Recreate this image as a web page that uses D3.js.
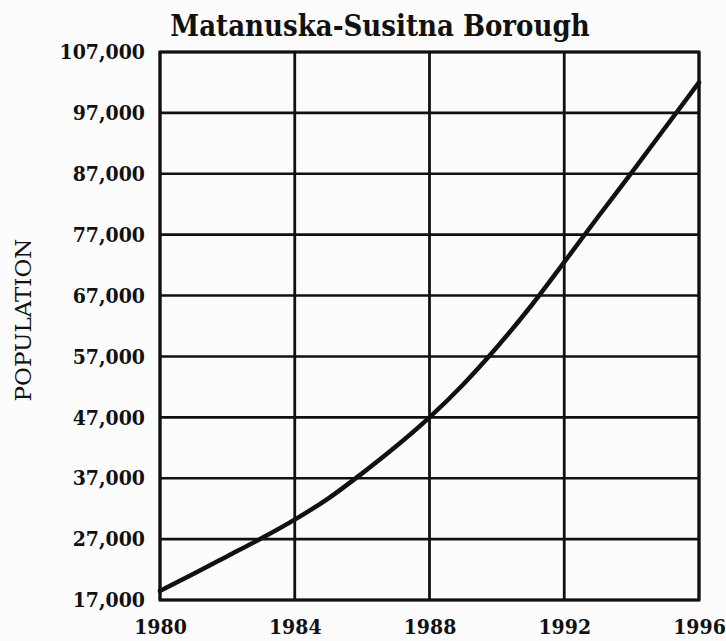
<!DOCTYPE html>
<html>
<head>
<meta charset="utf-8">
<script src="https://cdn.jsdelivr.net/npm/d3@7"></script>
<style>
  body { margin: 0; background: #fcfcfc; }
  svg { display: block; }
  .lbl { font-family: "DejaVu Serif Condensed", "DejaVu Serif", serif; font-stretch: condensed; font-weight: bold; fill: #111; }
</style>
</head>
<body>
<div id="chart"></div>
<script>
  var width = 726;
  var height = 641;

  // population (one value per year)
  var years = [1980, 1981, 1982, 1983, 1984, 1985, 1986, 1987, 1988,
               1989, 1990, 1991, 1992, 1993, 1994, 1995, 1996];
  var population = [18500, 21300, 24200, 27100, 30200, 33700, 37800, 42200, 47000,
                    52400, 58500, 65200, 72500, 79900, 87200, 94600, 102000];

  var yearTicks = [1980, 1984, 1988, 1992, 1996];
  var popTicks = [17000, 27000, 37000, 47000, 57000, 67000, 77000, 87000, 97000, 107000];

  var title = "Matanuska-Susitna Borough";
  var yTitle = "POPULATION";

  var margin = {left: 160, right: 27, top: 52, bottom: 41};

  var svg = d3.select("#chart").append("svg")
    .attr("width", width)
    .attr("height", height);

  var x = d3.scaleLinear()
    .domain([1980, 1996])
    .range([margin.left, width - margin.right]);

  var y = d3.scaleLinear()
    .domain([17000, 107000])
    .range([height - margin.bottom, margin.top]);

  // grid lines
  svg.append("g").selectAll("line.h")
    .data(popTicks)
    .enter().append("line")
    .attr("x1", x(1980)).attr("x2", x(1996))
    .attr("y1", function(d) { return y(d); })
    .attr("y2", function(d) { return y(d); })
    .attr("stroke", "#111").attr("stroke-width", 2.6);

  svg.append("g").selectAll("line.v")
    .data(yearTicks)
    .enter().append("line")
    .attr("y1", y(17000)).attr("y2", y(107000))
    .attr("x1", function(d) { return x(d); })
    .attr("x2", function(d) { return x(d); })
    .attr("stroke", "#111").attr("stroke-width", 2.8);

  // frame
  svg.append("rect")
    .attr("x", x(1980)).attr("y", y(107000))
    .attr("width", x(1996) - x(1980))
    .attr("height", y(17000) - y(107000))
    .attr("fill", "none").attr("stroke", "#111").attr("stroke-width", 3);

  // the curve
  var line = d3.line()
    .x(function(d, i) { return x(years[i]); })
    .y(function(d) { return y(d); })
    .curve(d3.curveMonotoneX);

  svg.append("path")
    .datum(population)
    .attr("d", line)
    .attr("fill", "none")
    .attr("stroke", "#111")
    .attr("stroke-width", 4.5)
    .attr("stroke-linecap", "round");

  // axis labels
  var yAxis = d3.axisLeft(y)
    .tickValues(popTicks)
    .tickSize(0)
    .tickPadding(15)
    .tickFormat(d3.format(","));
  var ya = svg.append("g").attr("transform", "translate(" + margin.left + ",0)").call(yAxis);
  ya.select(".domain").remove();
  ya.selectAll("text").attr("class", "lbl").style("font-size", "21px");

  var xAxis = d3.axisBottom(x)
    .tickValues(yearTicks)
    .tickSize(0)
    .tickPadding(19)
    .tickFormat(d3.format("d"));
  var xa = svg.append("g").attr("transform", "translate(0," + y(17000) + ")").call(xAxis);
  xa.select(".domain").remove();
  xa.selectAll("text").attr("class", "lbl").style("font-size", "21px");

  // titles
  svg.append("text")
    .attr("class", "lbl")
    .attr("x", 380).attr("y", 36)
    .attr("text-anchor", "middle")
    .style("font-size", "29px")
    .text(title);

  svg.append("text")
    .attr("transform", "translate(31,320) rotate(-90)")
    .attr("text-anchor", "middle")
    .style("font-family", "'DejaVu Serif', serif")
    .style("font-size", "23px")
    .style("fill", "#111")
    .text(yTitle);
</script>
</body>
</html>
